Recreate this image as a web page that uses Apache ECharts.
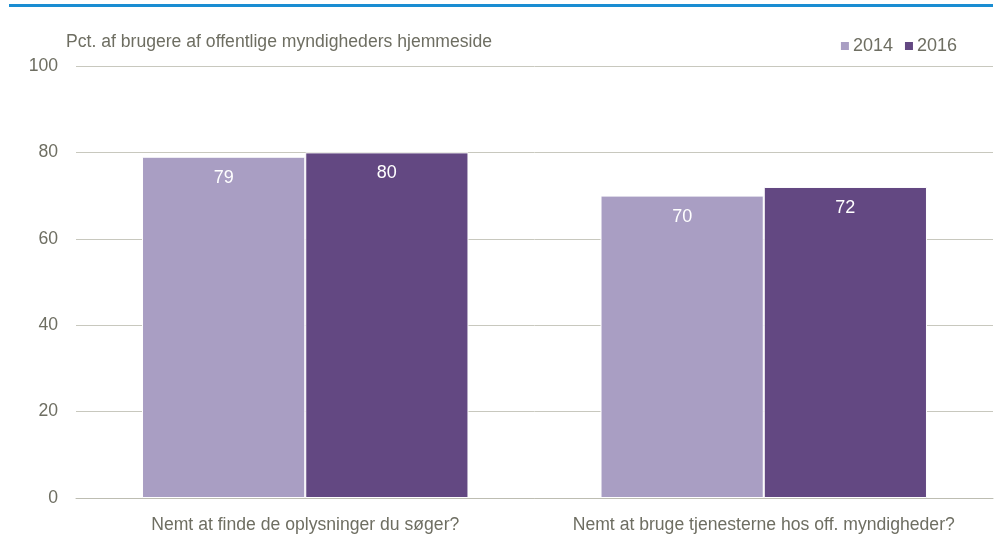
<!DOCTYPE html>
<html><head><meta charset="utf-8">
<script src="https://cdn.jsdelivr.net/npm/echarts@6/dist/echarts.min.js"></script>
<style>html,body{margin:0;padding:0;background:#fff}#c{width:1000px;height:540px}</style>
</head><body><div id="c"></div>
<script>
const categories = ["Nemt at finde de oplysninger du søger?", "Nemt at bruge tjenesterne hos off. myndigheder?"];
const values2014 = [79, 70];
const values2016 = [80, 72];
const seriesNames = ["2014", "2016"];
const yTicks = [0, 20, 40, 60, 80, 100];
const yTitle = "Pct. af brugere af offentlige myndigheders hjemmeside";

const FONT = "'Liberation Sans Narrow', 'Arial Narrow', 'Liberation Sans', sans-serif";
const TXT = "#6e6e62";
const chart = echarts.init(document.getElementById('c'), null, {renderer: 'canvas'});
const lbl = {show: true, position: 'insideTop', distance: 12, color: '#fff', fontSize: 18, fontFamily: FONT};
chart.setOption({
  animation: false,
  textStyle: {fontFamily: FONT},
  graphic: [
    {type: 'rect', left: 9, top: 4, shape: {width: 984, height: 3}, style: {fill: '#1a8dd2'}},
    {type: 'text', left: 66, top: 33, style: {text: yTitle, fill: TXT, fontSize: 17.6, fontFamily: FONT}}
  ],
  legend: {
    right: 38, top: 32, itemWidth: 10, itemHeight: 10, itemGap: 10,
    icon: 'rect',
    textStyle: {color: TXT, fontSize: 18, fontFamily: FONT, padding: [0, 0, 0, -2]},
    data: seriesNames
  },
  grid: {left: 76, right: 7, top: 66, bottom: 42, containLabel: false},
  xAxis: {
    type: 'category', data: categories,
    axisLine: {show: true, lineStyle: {color: '#bdbdb2', width: 1}},
    axisTick: {show: false},
    axisLabel: {color: TXT, fontSize: 17.6, fontFamily: FONT, margin: 18, interval: 0}
  },
  yAxis: {
    type: 'value', min: yTicks[0], max: yTicks[yTicks.length - 1], interval: 20,
    axisLine: {show: false}, axisTick: {show: false},
    splitLine: {lineStyle: {color: '#c8c8be', width: 1}},
    axisLabel: {color: TXT, fontSize: 17.6, fontFamily: FONT, margin: 18}
  },
  series: [
    {name: seriesNames[0], type: 'bar', data: values2014, barWidth: '35.6%', barGap: '0%', barCategoryGap: '28.8%',
     itemStyle: {color: '#a99ec3', borderColor: '#fff', borderWidth: 1}, label: lbl},
    {name: seriesNames[1], type: 'bar', data: values2016, barWidth: '35.6%', barGap: '0%',
     itemStyle: {color: '#634882', borderColor: '#fff', borderWidth: 1}, label: lbl}
  ]
});
</script></body></html>
